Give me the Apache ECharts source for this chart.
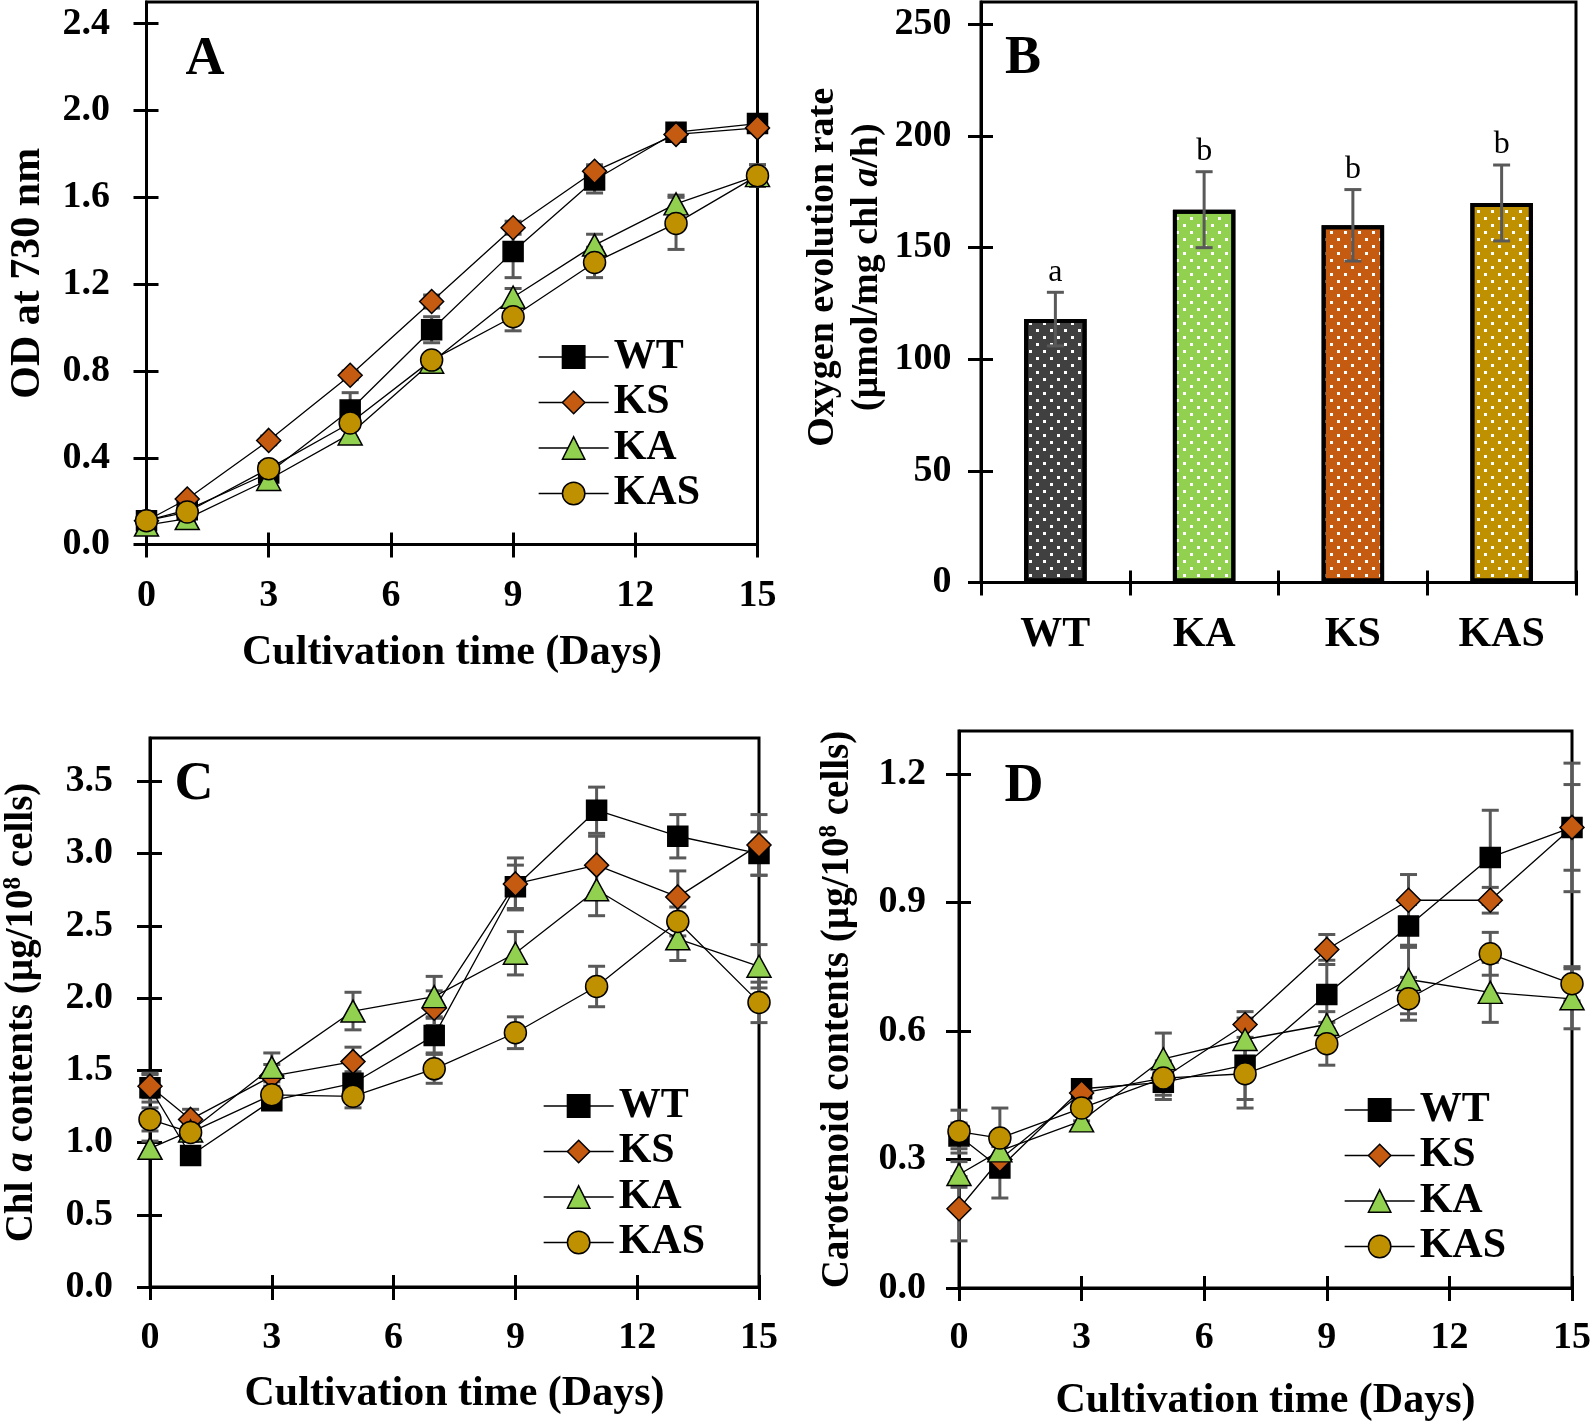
<!DOCTYPE html>
<html><head><meta charset="utf-8">
<script src="https://cdn.jsdelivr.net/npm/echarts@6/dist/echarts.min.js"></script>
<style>html,body{margin:0;padding:0;background:#fff}#c{width:1594px;height:1423px}</style>
</head><body><div id="c"></div>
<script>
// ---------- DATA ----------
const days = [0, 1, 3, 5, 7, 9, 11, 13, 15];
const groups = ['WT', 'KS', 'KA', 'KAS'];

// Panel A: OD at 730 nm
const odWT   = [0.11, 0.16, 0.33, 0.62, 0.99, 1.35, 1.68, 1.90, 1.94];
const odWTErr  = [0.01, 0.01, 0.02, 0.08, 0.06, 0.12, 0.06, 0.02, 0.02];
const odKS   = [0.11, 0.21, 0.48, 0.78, 1.12, 1.46, 1.72, 1.89, 1.92];
const odKSErr  = [0.01, 0.01, 0.02, 0.02, 0.03, 0.03, 0.03, 0.02, 0.02];
const odKA   = [0.09, 0.12, 0.30, 0.51, 0.84, 1.14, 1.38, 1.57, 1.70];
const odKAErr  = [0.01, 0.01, 0.02, 0.02, 0.03, 0.04, 0.05, 0.04, 0.05];
const odKAS  = [0.11, 0.15, 0.35, 0.56, 0.85, 1.05, 1.30, 1.48, 1.70];
const odKASErr = [0.01, 0.01, 0.02, 0.03, 0.03, 0.065, 0.07, 0.12, 0.05];

// Panel B: oxygen evolution rate
const barCategories = ['WT', 'KA', 'KS', 'KAS'];
const barValues = [118, 167, 160, 170];
const barErrors = [12, 17, 16, 17];
const barLetters = ['a', 'b', 'b', 'b'];

// Panel C: Chl a contents
const chlWT   = [1.38, 0.91, 1.29, 1.41, 1.74, 2.77, 3.30, 3.12, 3.00];
const chlWTErr  = [0.10, 0.05, 0.04, 0.08, 0.12, 0.15, 0.16, 0.15, 0.15];
const chlKS   = [1.39, 1.16, 1.46, 1.56, 1.93, 2.79, 2.92, 2.70, 3.06];
const chlKSErr  = [0.08, 0.07, 0.08, 0.10, 0.12, 0.18, 0.20, 0.18, 0.21];
const chlKA   = [0.96, 1.08, 1.52, 1.91, 2.01, 2.31, 2.75, 2.41, 2.22];
const chlKAErr  = [0.05, 0.06, 0.10, 0.13, 0.14, 0.15, 0.18, 0.15, 0.15];
const chlKAS  = [1.16, 1.07, 1.33, 1.32, 1.51, 1.76, 2.08, 2.53, 1.97];
const chlKASErr = [0.08, 0.06, 0.06, 0.08, 0.10, 0.11, 0.14, 0.10, 0.14];

// Panel D: Carotenoid contents
const carWT   = [0.355, 0.28, 0.465, 0.48, 0.52, 0.685, 0.845, 1.005, 1.075];
const carWTErr  = [0.03, 0.07, 0.01, 0.04, 0.10, 0.08, 0.05, 0.11, 0.15];
const carKS   = [0.185, 0.30, 0.455, 0.49, 0.615, 0.79, 0.905, 0.905, 1.075];
const carKSErr  = [0.075, 0.03, 0.02, 0.03, 0.03, 0.035, 0.06, 0.03, 0.10];
const carKA   = [0.265, 0.32, 0.39, 0.535, 0.58, 0.615, 0.72, 0.69, 0.675];
const carKAErr  = [0.03, 0.03, 0.02, 0.06, 0.05, 0.03, 0.08, 0.07, 0.07];
const carKAS  = [0.365, 0.35, 0.42, 0.49, 0.50, 0.57, 0.675, 0.78, 0.71];
const carKASErr = [0.05, 0.07, 0.03, 0.04, 0.06, 0.05, 0.05, 0.05, 0.04];

// Tick labels
const dayTicks = [0, 3, 6, 9, 12, 15];
const odTicks  = [0, 0.4, 0.8, 1.2, 1.6, 2.0, 2.4];
const oxyTicks = [0, 50, 100, 150, 200, 250];
const chlTicks = [0, 0.5, 1.0, 1.5, 2.0, 2.5, 3.0, 3.5];
const carTicks = [0, 0.3, 0.6, 0.9, 1.2];

// ---------- STYLE ----------
const FONT = 'Liberation Serif';
const colors  = { WT: '#000000', KS: '#C55A11', KA: '#92D050', KAS: '#BF9000' };
const symbols = { WT: 'rect', KS: 'diamond', KA: 'triangle', KAS: 'circle' };
const sizes   = { WT: 20, KS: [24, 24], KA: [24, 22], KAS: 22 };
const barColors = ['#404040', '#92D050', '#C55A11', '#BF9000'];
const ERR = '#595959';

const chart = echarts.init(document.getElementById('c'), null, { renderer: 'canvas' });

const tickFont = { color: '#000', fontFamily: FONT, fontWeight: 'bold', fontSize: 38 };
const titleFont = { color: '#000', fontFamily: FONT, fontWeight: 'bold', fontSize: 42 };
const lineSt = { color: '#000', width: 3 };

function mainX(g, margin, gap) {
  return {
    type: 'value', gridIndex: g, position: 'bottom', min: 0, max: 15, interval: 3,
    axisLine: { show: true, onZero: false, lineStyle: lineSt },
    axisTick: { show: true, length: 13, lineStyle: lineSt, customValues: dayTicks },
    axisLabel: Object.assign({ margin: margin, customValues: dayTicks }, tickFont),
    splitLine: { show: false },
    name: 'Cultivation time (Days)', nameLocation: 'middle', nameGap: gap, nameTextStyle: titleFont
  };
}
function innerX(g) {
  return {
    type: 'value', gridIndex: g, position: 'bottom', min: 0, max: 15, interval: 3,
    axisLine: { show: false, onZero: false },
    axisTick: { show: true, inside: true, length: 12, lineStyle: lineSt, customValues: dayTicks },
    axisLabel: { show: false }, splitLine: { show: false }
  };
}
function mainY(g, max, ticks, dec, margin, name) {
  return Object.assign({
    type: 'value', gridIndex: g, position: 'left', min: 0, max: max,
    axisLine: { show: true, onZero: false, lineStyle: lineSt },
    axisTick: { show: true, length: 13, lineStyle: lineSt, customValues: ticks },
    axisLabel: Object.assign({ margin: margin, customValues: ticks,
      formatter: v => Number(v).toFixed(dec) }, tickFont),
    splitLine: { show: false }
  }, name);
}
function innerY(g, max, ticks) {
  return {
    type: 'value', gridIndex: g, position: 'left', min: 0, max: max,
    axisLine: { show: false, onZero: false },
    axisTick: { show: true, inside: true, length: 12, lineStyle: lineSt, customValues: ticks },
    axisLabel: { show: false }, splitLine: { show: false }
  };
}

function errRender(params, api) {
  const x = api.value(0), lo = api.value(1), hi = api.value(2);
  const p1 = api.coord([x, lo]), p2 = api.coord([x, hi]);
  const hw = 8.5, st = { stroke: ERR, lineWidth: 3 };
  return { type: 'group', children: [
    { type: 'line', shape: { x1: p1[0], y1: p1[1], x2: p2[0], y2: p2[1] }, style: st },
    { type: 'line', shape: { x1: p1[0] - hw, y1: p1[1], x2: p1[0] + hw, y2: p1[1] }, style: st },
    { type: 'line', shape: { x1: p2[0] - hw, y1: p2[1], x2: p2[0] + hw, y2: p2[1] }, style: st }
  ]};
}

function linePanel(g, vals, errs) {
  const out = [];
  groups.forEach(k => {
    out.push({
      type: 'custom', xAxisIndex: 2 * g, yAxisIndex: 2 * g, z: 2, silent: true, clip: false,
      data: days.map((d, i) => [d, vals[k][i] - errs[k][i], vals[k][i] + errs[k][i]]),
      encode: { x: 0, y: [1, 2] }, renderItem: errRender
    });
  });
  groups.forEach(k => {
    out.push({
      type: 'line', name: k, xAxisIndex: 2 * g, yAxisIndex: 2 * g, z: 3, clip: false,
      data: days.map((d, i) => [d, vals[k][i]]),
      symbol: symbols[k], symbolSize: sizes[k], showAllSymbol: true,
      lineStyle: { color: '#000', width: 1.3 },
      itemStyle: { color: colors[k], borderColor: '#000', borderWidth: 1.5 },
      emphasis: { disabled: true }
    });
  });
  return out;
}

const series = [].concat(
  linePanel(0, { WT: odWT, KS: odKS, KA: odKA, KAS: odKAS },
               { WT: odWTErr, KS: odKSErr, KA: odKAErr, KAS: odKASErr }),
  [{
    type: 'bar', xAxisIndex: 2, yAxisIndex: 2, barWidth: '42%', z: 2,
    data: barValues.map((v, i) => ({
      value: v,
      itemStyle: {
        color: barColors[i], borderColor: '#000', borderWidth: 4,
        decal: { symbol: 'rect', symbolSize: 1, color: '#ffffff',
                 dashArrayX: [[3, 11], [0, 7, 3, 4]], dashArrayY: [3, 4] }
      }
    })),
    emphasis: { disabled: true }
  }, {
    type: 'custom', xAxisIndex: 2, yAxisIndex: 2, z: 3, silent: true, clip: false,
    data: barValues.map((v, i) => [i, v - barErrors[i], v + barErrors[i]]),
    encode: { x: 0, y: [1, 2] },
    renderItem: function (params, api) {
      const base = errRender(params, api);
      const p2 = api.coord([api.value(0), api.value(2)]);
      base.children.push({ type: 'text', x: p2[0], y: p2[1] - 20,
        style: { text: barLetters[params.dataIndex], font: '32px "Liberation Serif"',
                 fill: '#000', textAlign: 'center', textVerticalAlign: 'middle' } });
      return base;
    }
  }],
  linePanel(2, { WT: chlWT, KS: chlKS, KA: chlKA, KAS: chlKAS },
               { WT: chlWTErr, KS: chlKSErr, KA: chlKAErr, KAS: chlKASErr }),
  linePanel(3, { WT: carWT, KS: carKS, KA: carKA, KAS: carKAS },
               { WT: carWTErr, KS: carKSErr, KA: carKAErr, KAS: carKASErr })
);

const richBase = { fontFamily: FONT, fontWeight: 'bold', color: '#000' };
const yNameStyle = Object.assign({}, titleFont, { fontSize: 39, lineHeight: 42,
  rich: {
    i: Object.assign({ fontStyle: 'italic', fontSize: 39, lineHeight: 42 }, richBase),
    sup: Object.assign({ fontSize: 25, lineHeight: 25, verticalAlign: 'top' }, richBase)
  } });

function legend(left, top) {
  return {
    orient: 'vertical', left: left, top: top, padding: 0, itemGap: 3.5,
    itemWidth: 70, itemHeight: 28, data: groups, selectedMode: false,
    textStyle: { color: '#000', fontFamily: FONT, fontWeight: 'bold', fontSize: 42, lineHeight: 42 },
    lineStyle: { color: '#000', width: 1.3 },
    itemStyle: { borderColor: '#000', borderWidth: 1.5 }
  };
}

function letter(t, x, y) {
  return { type: 'text', x: x, y: y, z: 10,
    style: { text: t, font: 'bold 54px "Liberation Serif"', fill: '#000',
             textAlign: 'center', textVerticalAlign: 'middle' } };
}

const gridStyle = { show: true, borderColor: '#000', borderWidth: 3, backgroundColor: 'transparent' };

chart.setOption({
  animation: false,
  backgroundColor: '#ffffff',
  grid: [
    Object.assign({ left: 146.5, top: 2, width: 611, height: 542.6 }, gridStyle),
    Object.assign({ left: 981, top: 2, width: 595, height: 580.6 }, gridStyle),
    Object.assign({ left: 148, top: 738, width: 611, height: 549 }, gridStyle),
    Object.assign({ left: 959, top: 731, width: 614.5, height: 557 }, gridStyle)
  ],
  xAxis: [
    mainX(0, 33, 88), innerX(0),
    {
      type: 'category', gridIndex: 1, position: 'bottom', data: barCategories,
      axisLine: { show: true, onZero: false, lineStyle: lineSt },
      axisTick: { show: true, length: 13, lineStyle: lineSt },
      axisLabel: Object.assign({ margin: 32, interval: 0 }, tickFont, { fontSize: 42 }),
      splitLine: { show: false }
    },
    {
      type: 'category', gridIndex: 1, position: 'bottom', data: barCategories,
      axisLine: { show: false, onZero: false },
      axisTick: { show: true, inside: true, length: 12, lineStyle: lineSt },
      axisLabel: { show: false }, splitLine: { show: false }
    },
    mainX(2, 32, 86), innerX(2),
    mainX(3, 31, 92), innerX(3)
  ],
  yAxis: [
    mainY(0, 2.5, odTicks, 1, 36.5, { name: 'OD at 730 nm', nameLocation: 'middle', nameGap: 97, nameTextStyle: titleFont }),
    innerY(0, 2.5, odTicks),
    mainY(1, 260, oxyTicks, 0, 29.5, {
      name: 'Oxygen evolution rate\n(µmol/mg chl {i|a}/h)', nameLocation: 'middle', nameGap: 92,
      nameTextStyle: Object.assign({}, titleFont, { fontSize: 38, lineHeight: 44, padding: [0, 0, 0, 50],
        rich: { i: Object.assign({ fontStyle: 'italic', fontSize: 38, lineHeight: 44 }, richBase) } })
    }),
    innerY(1, 260, oxyTicks),
    mainY(2, 3.8, chlTicks, 1, 37, { name: 'Chl {i|a} contents (µg/10{sup|8} cells)', nameLocation: 'middle', nameGap: 107, nameTextStyle: yNameStyle }),
    innerY(2, 3.8, chlTicks),
    mainY(3, 1.3, carTicks, 1, 33, { name: 'Carotenoid contents (µg/10{sup|8} cells)', nameLocation: 'middle', nameGap: 100, nameTextStyle: yNameStyle }),
    innerY(3, 1.3, carTicks)
  ],
  legend: [legend(538, 336), legend(543, 1085), legend(1344, 1089)],
  graphic: [letter('A', 205, 60), letter('B', 1023, 59), letter('C', 194, 785), letter('D', 1024, 787)],
  series: series
});
</script>
</body></html>
